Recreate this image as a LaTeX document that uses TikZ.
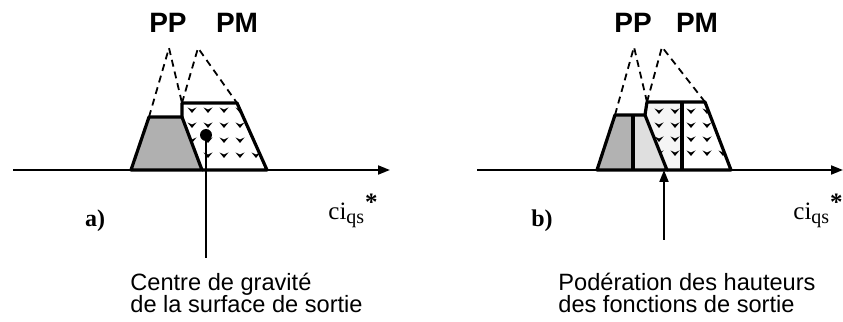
\documentclass[tikz,border=0pt]{standalone}
\usepackage{fontspec}
\setmainfont{Liberation Sans}
\newfontfamily\timesfont{Liberation Serif}
\usetikzlibrary{arrows.meta}
\begin{document}
\begin{tikzpicture}[
  x=0.5pt, y=0.5pt,
  outline/.style={draw, line width=1.6pt, line join=round},
  guide/.style={line width=0.9pt, dash pattern=on 3.5pt off 2.5pt},
  axis/.style={line width=0.9pt, -{Triangle[length=6pt,width=4.5pt]}},
  bar/.style={line width=2.4pt},
  setname/.style={font=\fontsize{14}{14}\selectfont\bfseries, anchor=base, inner sep=0pt},
  panel/.style={font=\timesfont\fontsize{12}{12}\selectfont\bfseries, anchor=base, inner sep=0pt},
  varname/.style={font=\timesfont\fontsize{12.5}{12.5}\selectfont, anchor=base west, inner sep=0pt},
  caption/.style={font=\fontsize{11.8}{11}\selectfont, align=left, anchor=north west, inner sep=0pt},
  vmark/.pic={\fill (-4.5,2.5) -- (0,0.5) -- (4.5,2.5) -- (0,-3) -- cycle;}
]
\useasboundingbox (0,0) rectangle (843,322);

% ---- a) centre de gravite
\coordinate (ppAtop) at (169,274);
\coordinate (pmAtop) at (198,274);
\coordinate (ppAbl) at (131,152);
\coordinate (ppAtl) at (149,205);
\coordinate (ppAtr) at (182,205);
\coordinate (ppAbr) at (202,152);
\coordinate (pmAtl) at (182,219);
\coordinate (pmAtr) at (237,219);
\coordinate (pmAbr) at (267,152);
\filldraw[outline, fill=gray!62] (ppAbl) -- (ppAtl) -- (ppAtr) -- (ppAbr) -- cycle;
\begin{scope}
  \clip (ppAtr) -- (pmAtl) -- (pmAtr) -- (pmAbr) -- (ppAbr) -- cycle;
  \foreach \x in {192,208,...,256}
    \foreach \y in {167,182,...,212}
      \pic at (\x,\y) {vmark};
\end{scope}
\draw[outline] (ppAtr) -- (pmAtl) -- (pmAtr) -- (pmAbr) -- (ppAbr);
\draw[guide] (ppAtl) -- (ppAtop) -- (pmAtl);
\draw[guide] (pmAtl) -- (pmAtop) -- (pmAtr);
\node[setname] (ppA) at (168,289) {PP};
\node[setname] (pmA) at (237,289) {PM};

\coordinate (axAstart) at (13,152);
\coordinate (axAend) at (390,152);
\draw[axis] (axAstart) -- (axAend);

\node[circle, fill, inner sep=0pt, minimum size=6pt] (cogA) at (206,187) {};
\coordinate (cogAend) at (206,64);
\draw[line width=0.7pt] (cogA) -- (cogAend);

\node[panel] (tagA) at (95,95) {a)};
\node[varname] (varA) at (328,102) {ci\textsubscript{\fontsize{10}{10}\selectfont qs}\raisebox{4.5pt}{\textbf{*}}};
\node[caption] (capA) at (130,49) {Centre de gravité\\de la surface de sortie};

% ---- b) ponderation des hauteurs
\coordinate (ppBtop) at (634,275);
\coordinate (pmBtop) at (662,275);
\coordinate (ppBbl) at (597,152);
\coordinate (ppBtl) at (615,207);
\coordinate (ppBtr) at (645,207);
\coordinate (ppBbr) at (667,152);
\coordinate (pmBtl) at (647,220);
\coordinate (pmBtr) at (705,220);
\coordinate (pmBbr) at (731,152);
\fill[gray!25] (ppBbl) -- (ppBtl) -- (ppBtr) -- (ppBbr) -- cycle;
\begin{scope}
  \clip (ppBbl) -- (ppBtl) -- (ppBtr) -- (ppBbr) -- cycle;
  \fill[gray!60] (590,140) rectangle (633,230);
\end{scope}
\begin{scope}
  \clip (ppBtr) -- (pmBtl) -- (pmBtr) -- (pmBbr) -- (ppBbr) -- cycle;
  \fill[gray!8] (640,140) rectangle (682,230);
  \foreach \x in {659,675,...,723}
    \foreach \y in {169,183,...,211}
      \pic at (\x,\y) {vmark};
\end{scope}
\draw[outline] (ppBbl) -- (ppBtl) -- (ppBtr) -- (ppBbr) -- cycle;
\draw[outline] (ppBtr) -- (pmBtl) -- (pmBtr) -- (pmBbr) -- (ppBbr);
\draw[guide] (ppBtl) -- (ppBtop) -- (pmBtl);
\draw[guide] (pmBtl) -- (pmBtop) -- (pmBtr);
\coordinate (hPPlo) at (633,152);
\coordinate (hPPhi) at (633,207);
\coordinate (hPMlo) at (682,152);
\coordinate (hPMhi) at (682,220);
\draw[bar] (hPPlo) -- (hPPhi);
\draw[bar] (hPMlo) -- (hPMhi);
\node[setname] (ppB) at (633,289) {PP};
\node[setname] (pmB) at (697,289) {PM};

\coordinate (axBstart) at (477,152);
\coordinate (axBend) at (843,152);
\draw[axis] (axBstart) -- (axBend);

\coordinate (wtBstart) at (664,82);
\coordinate (wtBend) at (664,152);
\draw[axis] (wtBstart) -- (wtBend);

\node[panel] (tagB) at (542,95) {b)};
\node[varname] (varB) at (793,102) {ci\textsubscript{\fontsize{10}{10}\selectfont qs}\raisebox{4.5pt}{\textbf{*}}};
\node[caption] (capB) at (558,49) {Podération des hauteurs\\des fonctions de sortie};
\end{tikzpicture}
\end{document}
